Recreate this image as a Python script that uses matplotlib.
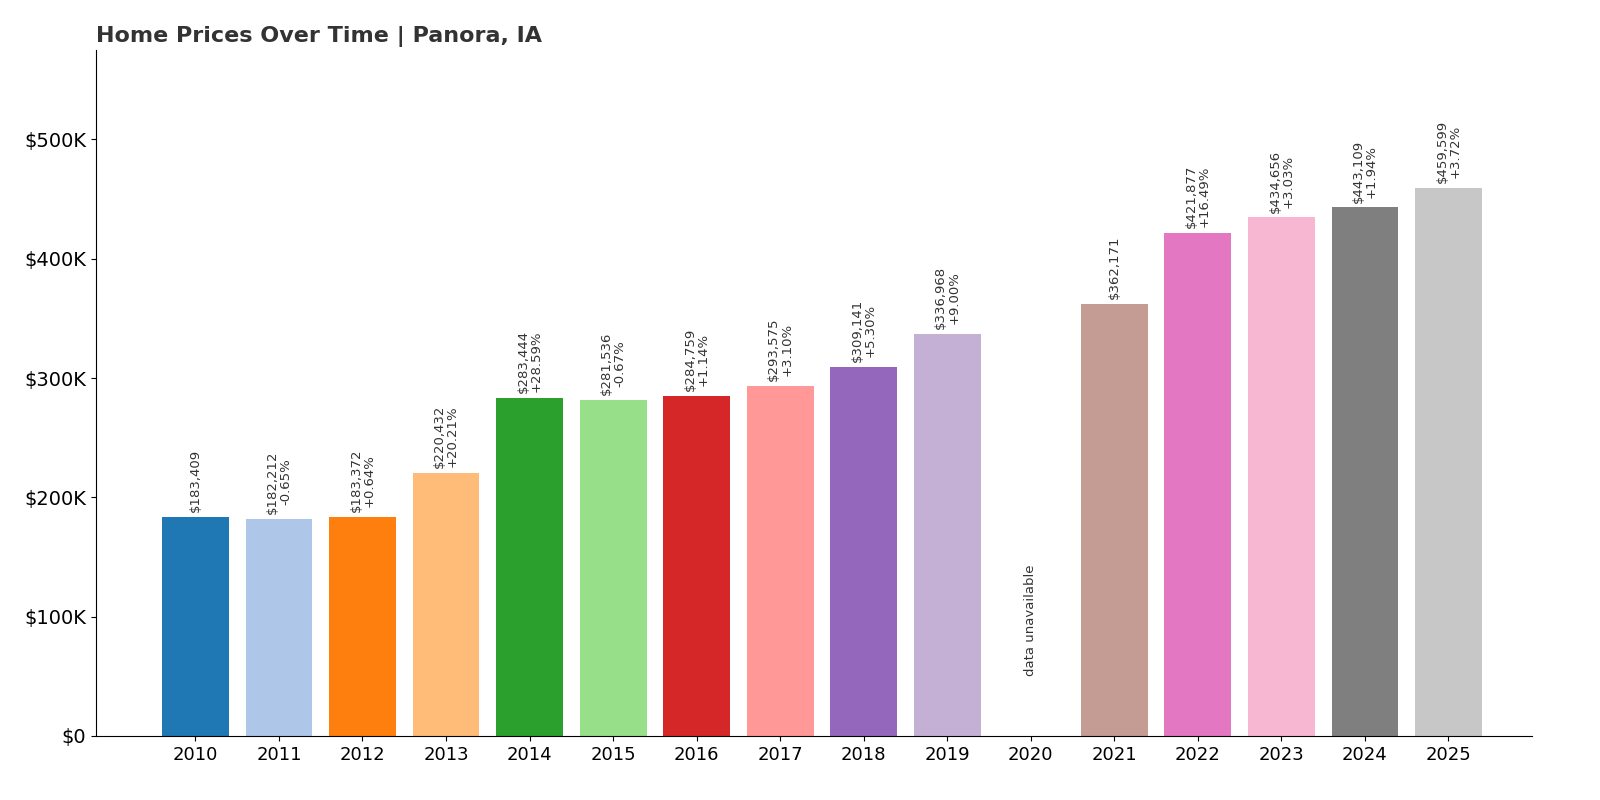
import numpy as np
import matplotlib.pyplot as plt
from matplotlib.ticker import FuncFormatter

years = ['2010', '2011', '2012', '2013', '2014', '2015', '2016', '2017',
         '2018', '2019', '2020', '2021', '2022', '2023', '2024', '2025']
prices = [183409, 182212, 183372, 220432, 283444, 281536, 284759, 293575,
          309141, 336968, None, 362171, 421877, 434656, 443109, 459599]
changes = [None, '-0.65%', '+0.64%', '+20.21%', '+28.59%', '-0.67%', '+1.14%', '+3.10%',
           '+5.30%', '+9.00%', None, None, '+16.49%', '+3.03%', '+1.94%', '+3.72%']

colors = plt.get_cmap('tab20').colors

fig = plt.figure(figsize=(16, 8), dpi=100)
ax = fig.add_axes([0.06, 0.08, 0.8975, 0.8575])

x = np.arange(len(years))
for i in range(len(years)):
    if prices[i] is None:
        ax.text(x[i], 50000, 'data unavailable', rotation=90, ha='center', va='bottom',
                fontsize=9.5, color='#333333')
        continue
    ax.bar(x[i], prices[i], width=0.8, color=colors[i % 20])
    label = '${:,}'.format(prices[i])
    if changes[i]:
        label += '\n' + changes[i]
    ax.text(x[i], prices[i] + 4000, label, rotation=90, ha='center', va='bottom',
            fontsize=9.5, color='#333333', linespacing=1.0)

ax.set_xticks(x)
ax.set_xticklabels(years, fontsize=13)
ax.yaxis.set_major_formatter(FuncFormatter(lambda v, p: '$0' if v == 0 else '${:.0f}K'.format(v / 1000)))
ax.set_yticks(range(0, 500001, 100000))
ax.tick_params(axis='y', labelsize=14)
ax.set_ylim(0, 575000)
ax.set_xlim(-1.19, 16.0)
ax.spines['top'].set_visible(False)
ax.spines['right'].set_visible(False)
ax.set_title('Home Prices Over Time | Panora, IA', loc='left', fontsize=16,
             fontweight='bold', color='#333333')

plt.savefig('out.png')
